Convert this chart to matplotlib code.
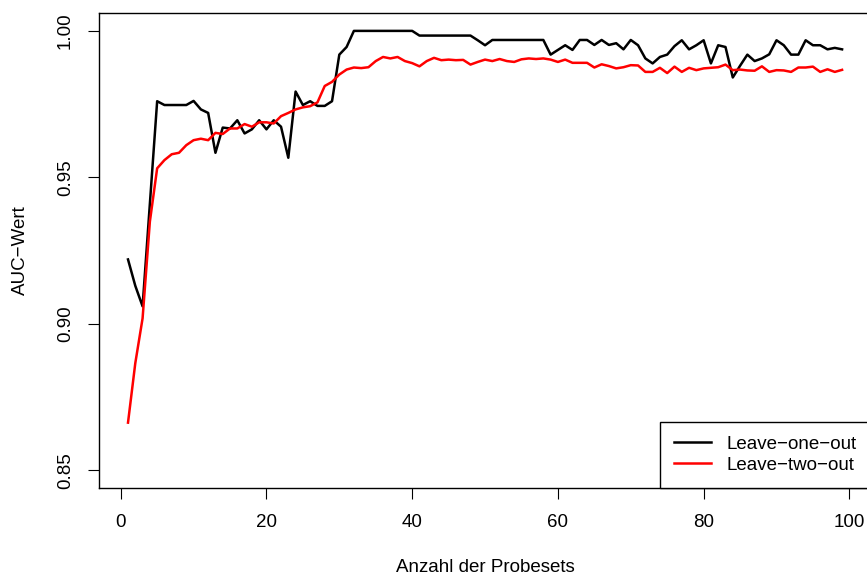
import numpy as np
import matplotlib
matplotlib.use('Agg')
import matplotlib.pyplot as plt

plt.rcParams['font.family'] = ['Liberation Sans', 'DejaVu Sans']
plt.rcParams['font.size'] = 13.5

# Anzahl der Probesets
n_probesets = np.arange(1, 100)

# Leave-one-out AUC
auc_loo = [
    0.922, 0.913, 0.906, 0.941, 0.976, 0.9747, 0.9747, 0.9747, 0.9747, 0.9761,
    0.9732, 0.9720, 0.9584, 0.9670, 0.9667, 0.9695, 0.9650, 0.9664, 0.9695, 0.9664,
    0.9695, 0.9673, 0.9567, 0.9793, 0.9747, 0.9760, 0.9744, 0.9744, 0.9760, 0.9919,
    0.9945, 1.0, 1.0, 1.0, 1.0, 1.0, 1.0, 1.0, 1.0, 1.0,
    0.9984, 0.9984, 0.9984, 0.9984, 0.9984, 0.9984, 0.9984, 0.9984, 0.9968, 0.9951,
    0.9969, 0.9969, 0.9969, 0.9969, 0.9969, 0.9969, 0.9969, 0.9969, 0.9919, 0.9935,
    0.9951, 0.9935, 0.9969, 0.9969, 0.9952, 0.9969, 0.9952, 0.9958, 0.9937, 0.9969,
    0.9951, 0.9906, 0.9889, 0.9911, 0.9919, 0.9948, 0.9968, 0.9937, 0.9951, 0.9968,
    0.9889, 0.9951, 0.9945, 0.9841, 0.9881, 0.9919, 0.9897, 0.9906, 0.9920, 0.9968,
    0.9951, 0.9919, 0.9919, 0.9968, 0.9951, 0.9951, 0.9937, 0.9942, 0.9937,
]

# Leave-two-out AUC
auc_lto = [
    0.8663, 0.8866, 0.9019, 0.9349, 0.9531, 0.9559, 0.9579, 0.9584, 0.9610, 0.9627,
    0.9632, 0.9627, 0.9652, 0.9648, 0.9667, 0.9667, 0.9682, 0.9673, 0.9688, 0.9688,
    0.9684, 0.9709, 0.9720, 0.9732, 0.9739, 0.9743, 0.9756, 0.9812, 0.9826, 0.9851,
    0.9868, 0.9875, 0.9873, 0.9876, 0.9897, 0.9911, 0.9906, 0.9911, 0.9897, 0.9890,
    0.9879, 0.9897, 0.9908, 0.9900, 0.9902, 0.9900, 0.9901, 0.9885, 0.9894, 0.9902,
    0.9897, 0.9904, 0.9897, 0.9894, 0.9903, 0.9906, 0.9904, 0.9906, 0.9902, 0.9894,
    0.9902, 0.9891, 0.9891, 0.9891, 0.9875, 0.9886, 0.9880, 0.9872, 0.9876, 0.9883,
    0.9882, 0.9860, 0.9860, 0.9874, 0.9856, 0.9878, 0.9860, 0.9874, 0.9866, 0.9872,
    0.9874, 0.9876, 0.9885, 0.9866, 0.9868, 0.9865, 0.9864, 0.9879, 0.9860, 0.9866,
    0.9865, 0.9860, 0.9875, 0.9875, 0.9878, 0.9860, 0.9869, 0.9860, 0.9867,
]

x_ticks = [0, 20, 40, 60, 80, 100]
y_ticks = [0.85, 0.90, 0.95, 1.00]
y_ticklabels = ['0.85', '0.90', '0.95', '1.00']

fig = plt.figure(figsize=(8.67, 5.76), dpi=100)
ax = fig.add_axes([0.1147, 0.1528, 0.8895, 0.8241])

ax.plot(n_probesets, auc_loo, color='black', lw=1.8, label='Leave\u2212one\u2212out')
ax.plot(n_probesets, auc_lto, color='red', lw=1.8, label='Leave\u2212two\u2212out')

ax.set_xlim(-2.92, 102.92)
ax.set_ylim(0.844, 1.006)
ax.set_xticks(x_ticks)
ax.set_yticks(y_ticks)
ax.set_yticklabels(y_ticklabels, rotation=90, va='center')
ax.tick_params(direction='out', length=8, width=0.8, pad=10.5, colors='black')

for s in ax.spines.values():
    s.set_linewidth(1.0)

fig.text(485 / 867, 1 - 568 / 576, 'Anzahl der Probesets', ha='center', va='center')
fig.text(20 / 867, 1 - 250 / 576, 'AUC\u2212Wert', ha='center', va='center', rotation=90)

leg = ax.legend(loc='lower right', bbox_to_anchor=(1.0, 0.0), borderaxespad=0,
                fancybox=False, edgecolor='black', framealpha=1,
                handlelength=1.95, handletextpad=0.85, borderpad=0.75,
                labelspacing=0.2)
leg.get_frame().set_linewidth(1.0)

fig.savefig('out.png', dpi=100)
